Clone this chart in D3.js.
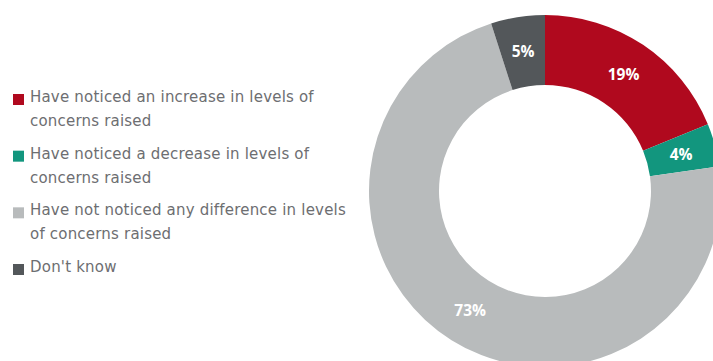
<!DOCTYPE html>
<html>
<head>
<meta charset="utf-8">
<script src="https://cdn.jsdelivr.net/npm/d3@7"></script>
<style>
  body { margin: 0; background: #fff; }
  svg { display: block; }
</style>
</head>
<body>
<script>
var width = 713, height = 361;

// data
var categories = [
    "Have noticed an increase in levels of concerns raised",
    "Have noticed a decrease in levels of concerns raised",
    "Have not noticed any difference in levels of concerns raised",
    "Don't know"
];
var values = [19, 4, 73, 5];
var legendLines = [
    ["Have noticed an increase in levels of", "concerns raised"],
    ["Have noticed a decrease in levels of", "concerns raised"],
    ["Have not noticed any difference in levels", "of concerns raised"],
    ["Don't know"]
];
var colors = ["#b0091e", "#12967e", "#b8bbbc", "#53575a"];

var svg = d3.select("body").append("svg")
    .attr("width", width)
    .attr("height", height);

var cx = 545, cy = 191, outerR = 176, innerR = 106;

var pie = d3.pie().sort(null).value(function(d) { return d; });
var arc = d3.arc().innerRadius(innerR).outerRadius(outerR);

var data = pie(values);

var g = svg.append("g").attr("transform", "translate(" + cx + "," + cy + ")");

g.selectAll("path")
    .data(data)
    .enter()
    .append("path")
    .attr("d", arc)
    .attr("fill", function(d, i) { return colors[i]; });

g.selectAll("text")
    .data(data)
    .enter()
    .append("text")
    .attr("transform", function(d) { return "translate(" + arc.centroid(d) + ")"; })
    .attr("text-anchor", "middle")
    .attr("dy", "0.36em")
    .attr("fill", "#fff")
    .attr("font-family", "'Open Sans', sans-serif")
    .attr("font-weight", 700)
    .attr("font-size", 15.5)
    .text(function(d) { return d.value + "%"; });

// legend
var legend = svg.append("g").attr("class", "legend");
var itemY = d3.scaleLinear().domain([0, 3]).range([102, 272]);

var item = legend.selectAll("g")
    .data(categories)
    .enter()
    .append("g")
    .attr("transform", function(d, i) { return "translate(0," + itemY(i) + ")"; });

item.append("rect")
    .attr("x", 13)
    .attr("y", -8)
    .attr("width", 11)
    .attr("height", 11)
    .attr("fill", function(d, i) { return colors[i]; });

item.append("text")
    .attr("x", 30)
    .attr("fill", "#6d6e71")
    .attr("font-family", "'DejaVu Sans', sans-serif")
    .attr("font-size", 15)
    .attr("letter-spacing", 0.2)
    .selectAll("tspan")
    .data(function(d, i) { return legendLines[i]; })
    .enter()
    .append("tspan")
    .attr("x", 30)
    .attr("dy", function(d, j) { return j === 0 ? 0 : 24; })
    .text(function(d) { return d; });
</script>
</body>
</html>
